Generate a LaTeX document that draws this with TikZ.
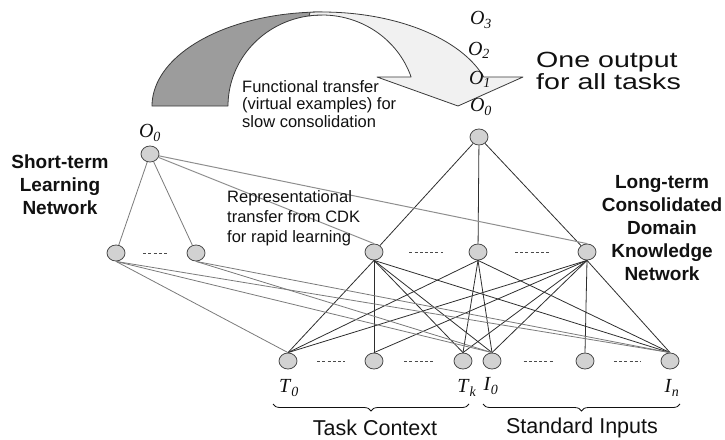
\documentclass[tikz,border=0pt]{standalone}
\usepackage{fontspec}
\setmainfont{Liberation Serif}
\setsansfont{Liberation Sans}
\newfontfamily\widesans[FakeStretch=1.3]{Liberation Sans}
\usetikzlibrary{
  shapes.geometric,
  calc,
  decorations.pathreplacing,
}
\definecolor{ink}{HTML}{111111}
\definecolor{unitFill}{HTML}{D2D2D2}
\definecolor{unitStroke}{HTML}{4A4A4A}
\definecolor{longEdge}{HTML}{2E2E2E}
\definecolor{shortEdge}{HTML}{7A7A7A}
\definecolor{transferEdge}{HTML}{8E8E8E}
\definecolor{backFace}{HTML}{9C9C9C}
\definecolor{frontFace}{HTML}{F1F1F1}
\definecolor{faceStroke}{HTML}{3A3A3A}
\newcommand{\unitname}[2]{\textit{#1}\textsubscript{\textit{#2}}}
\tikzset{
  every node/.style={
    text=ink,
    inner sep=0pt,
  },
  unit/.style={
    ellipse, draw=unitStroke, fill=unitFill, line width=0.8pt,
    minimum width=18pt, minimum height=16pt,
  },
  unitlabel/.style={
    font=\fontsize{20}{20}\selectfont,
  },
  netlabel/.style={
    font=\sffamily\bfseries\fontsize{19}{23}\selectfont,
    align=center,
  },
  note/.style={
    font=\sffamily\fontsize{16.5}{17.5}\selectfont,
    align=left, anchor=west,
  },
  grouplabel/.style={
    font=\sffamily\fontsize{21.5}{24}\selectfont,
  },
  longlink/.style={
    draw=longEdge, line width=0.8pt,
  },
  shortlink/.style={
    draw=shortEdge, line width=0.8pt,
  },
  transfer/.style={
    draw=transferEdge, line width=1pt,
  },
  elide/.style={
    draw=unitStroke, line width=0.9pt, dash pattern=on 3pt off 2.2pt,
  },
  groupbrace/.style={
    decorate, decoration={brace, amplitude=7pt, mirror},
    draw=ink, line width=0.8pt,
  },
  backface/.style={
    draw=faceStroke, fill=backFace, line width=0.8pt, line join=round,
  },
  frontface/.style={
    draw=faceStroke, fill=frontFace, line width=0.8pt, line join=round,
  },
}

\begin{document}
\begin{tikzpicture}[x=1pt, y=-1pt]

\useasboundingbox (0,0) rectangle (725,439);

% ----- Ribbon arrow: functional transfer -----
\draw[backface]
  plot[domain=180:270, samples=40] ({322+170*cos(\x)},{106+94*sin(\x)})
  -- plot[domain=270:180, samples=40] ({322+94*cos(\x)},{106+91*sin(\x)})
  -- cycle;
\draw[frontface]
  plot[domain=266:342, samples=40] ({322+170*cos(\x)},{106+94*sin(\x)})
  -- (523,77) -- (458,106) -- (377,77)
  -- plot[domain=341.4:262, samples=40] ({322+94*cos(\x)},{106+91*sin(\x)})
  -- cycle;

% ----- Short-term learning network -----
\node[unit] (so0) at (150,154) {};
\node[unit] (sh1) at (116,253) {};
\node[unit] (sh2) at (196,253) {};

% ----- Long-term consolidated network -----
\node[unit] (lo)  at (479,137) {};
\node[unit] (lh1) at (374,252) {};
\node[unit] (lh2) at (478,252) {};
\node[unit] (lh3) at (587,252) {};

% ----- Input units: task context, standard inputs -----
\node[unit] (t0)  at (288,361) {};
\node[unit] (tm)  at (374,361) {};
\node[unit] (tk)  at (463,361) {};
\node[unit] (in0) at (492,361) {};
\node[unit] (inm) at (585,361) {};
\node[unit] (inn) at (670,361) {};

% ----- Edges -----
\foreach \a/\b in {so0/sh1, so0/sh2}
  \draw[shortlink] (\a) -- (\b);
\foreach \b in {lh1, lh2, lh3}
  \draw[longlink] (lo) -- (\b);
\foreach \a/\b in {lh1/t0, lh1/tm, lh1/tk, lh1/in0, lh1/inn,
                   lh2/t0, lh2/tk, lh2/in0, lh2/inn,
                   lh3/t0, lh3/tm, lh3/tk, lh3/in0, lh3/inm, lh3/inn}
  \draw[longlink] (\a.south) -- (\b.north);
\foreach \a/\b in {sh1/t0, sh1/in0, sh1/inn, sh2/in0, sh2/inn}
  \draw[shortlink] (\a.south) -- (\b.north);
% representational transfer
\foreach \b in {lh1, lh3}
  \draw[transfer] (so0) -- (\b.north);

% elided units
\foreach \a/\b in {sh1/sh2, lh1/lh2, lh2/lh3, t0/tm, tm/tk, in0/inm, inm/inn}
  \draw[elide] ($(\a)!0.34!(\b)$) -- ($(\a)!0.66!(\b)$);

% ----- Unit labels -----
\node[unitlabel] (lso0) at (150,133) {\unitname{O}{0}};
\node[unitlabel] (lo3)  at (481,20)  {\unitname{O}{3}};
\node[unitlabel] (lo2)  at (479,50)  {\unitname{O}{2}};
\node[unitlabel] (lo1)  at (480,79)  {\unitname{O}{1}};
\node[unitlabel] (lo0)  at (481,107) {\unitname{O}{0}};
\node[unitlabel] (lt0)  at (289,388) {\unitname{T}{0}};
\node[unitlabel] (ltk)  at (467,388) {\unitname{T}{k}};
\node[unitlabel] (li0)  at (491,386) {\unitname{I}{0}};
\node[unitlabel] (lin)  at (672,388) {\unitname{I}{n}};

% ----- Network and transfer labels -----
\node[netlabel] (stlabel) at (60,185) {Short-term\\Learning\\Network};
\node[netlabel] (ltlabel) at (662,228) {Long-term\\Consolidated\\Domain\\Knowledge\\Network};
\node[note] (functional) at (242,104) {Functional transfer\\(virtual examples) for\\slow consolidation};
\node[note, font=\sffamily\fontsize{16.5}{20}\selectfont] (representational) at (227,218)
  {Representational\\transfer from CDK\\for rapid learning};
\node[note, font=\widesans\fontsize{22}{18}\selectfont] (oneout) at (536,71) {One output\\for all tasks};

% ----- Input groups -----
\coordinate (tcl) at (273,404);
\coordinate (tcr) at (469,404);
\coordinate (sil) at (483,404);
\coordinate (sir) at (680,404);
\draw[groupbrace] (tcl) -- (tcr);
\draw[groupbrace] (sil) -- (sir);
\node[grouplabel] (taskctx) at (375,428) {Task Context};
\node[grouplabel] (stdin)   at (582,428) {Standard Inputs};

\end{tikzpicture}
\end{document}
